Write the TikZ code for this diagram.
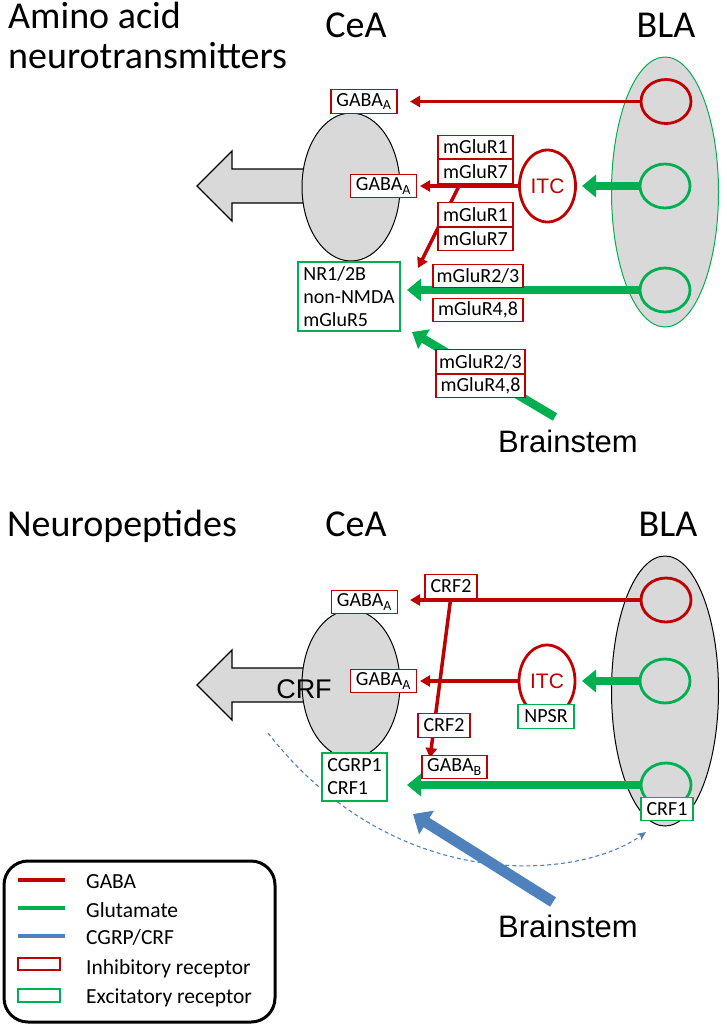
\documentclass[tikz,border=0pt]{standalone}
\usepackage{fontspec}
\setmainfont{Carlito}
\newfontfamily\arialf{Liberation Sans}
\usetikzlibrary{arrows.meta,shapes.geometric}
\definecolor{dred}{HTML}{C00000}
\definecolor{dgreen}{HTML}{00B050}
\definecolor{dblue}{HTML}{4F81BD}
\definecolor{lgray}{HTML}{D9D9D9}
\begin{document}
\begin{tikzpicture}[x=1pt,y=-1pt,
  inh/.style={draw=dred,line width=1.4pt,fill=white,inner sep=0pt,minimum height=23.5pt,font=\fontsize{20}{23}\selectfont},
  exc/.style={draw=dgreen,line width=1.4pt,fill=white,inner sep=0pt,minimum height=23.5pt,font=\fontsize{20}{23}\selectfont},
  redarr/.style={draw=dred,line width=3.5pt,-{Triangle[length=10pt,width=11pt]}},
  grnarr/.style={draw=dgreen,line width=8.5pt,-{Triangle[length=14pt,width=22pt]}},
  bluarr/.style={draw=dblue,line width=11pt,-{Triangle[length=16pt,width=27pt]}},
  dasharr/.style={draw=dblue,line width=1.1pt,dash pattern=on 4pt off 3pt,-{Stealth[length=9pt,width=8pt]}},
  cirR/.style={ellipse,draw=dred,line width=2.8pt,minimum width=50pt,minimum height=44pt,inner sep=0pt},
  cirG/.style={ellipse,draw=dgreen,line width=2.8pt,minimum width=50pt,minimum height=44pt,inner sep=0pt},
  itcS/.style={ellipse,draw=dred,line width=2.8pt,fill=white,minimum width=56pt,minimum height=72pt,inner sep=0pt,text=dred,font=\arialf\fontsize{21}{24}\selectfont},
  ceaS/.style={ellipse,draw=black,line width=1pt,fill=lgray,minimum width=98pt,minimum height=148pt,inner sep=0pt},
  blaS/.style={ellipse,line width=1pt,fill=lgray,minimum width=107pt,minimum height=270pt,inner sep=0pt},
  ttl/.style={inner sep=0pt,font=\fontsize{38}{41}\selectfont},
  bstem/.style={inner sep=0pt,font=\arialf\fontsize{31}{34}\selectfont},
  grayarr/.style={draw=black,line width=1.3pt,fill=lgray,line join=miter},
  leg/.style={inner sep=0pt,anchor=base west,font=\fontsize{21.5}{24}\selectfont}
]
\useasboundingbox (0,0) rectangle (726,1026);

% ---------------- titles ----------------
\node[ttl,anchor=base west] (t1a) at (8,28) {Amino acid};
\node[ttl,anchor=base west] (t1b) at (8,68) {neurotransmitters};
\node[ttl,anchor=base] (cea1t) at (356,37) {CeA};
\node[ttl,anchor=base] (bla1t) at (666,37) {BLA};
\node[ttl,anchor=base west] (t2) at (7,536) {Neuropeptides};
\node[ttl,anchor=base] (cea2t) at (356,536) {CeA};
\node[ttl,anchor=base] (bla2t) at (668,536) {BLA};

% ================= TOP PANEL =================
\draw[grayarr] (322,169) -- (232,169) -- (232,151) -- (197,186) -- (232,221) -- (232,203) -- (322,203) -- cycle;
\node[ceaS] (cea1) at (351,187) {};
\node[blaS,draw=dgreen] (blaA) at (665,192) {};
\node[cirR] (bla1) at (666,101.5) {};
\node[cirG] (bla2) at (665,186) {};
\node[cirG] (bla3) at (665,290) {};
\node[itcS] (itc1) at (547.5,186) {ITC};

\node[bstem,anchor=base] (bs1) at (568,452) {Brainstem};
\coordinate (bs1s) at (555,417);
\coordinate (bs1e) at (412,332);
\coordinate (b1s) at (459,186);
\coordinate (b1e) at (418,268);

\draw[redarr] (bla1.west) -- (410,101.5);
\draw[redarr] (itc1.west) -- (420,186);
\draw[grnarr] (bla2.west) -- (582,186);
\draw[redarr] (b1s) -- (b1e);
\draw[grnarr] (bla3.west) -- (407,290);
\draw[grnarr] (bs1s) -- (bs1e);

\node[inh,minimum width=66pt] (gA1) at (364,101.5) {GABA\textsubscript{A}};
\node[inh,minimum width=66pt] (gA2) at (383.5,186) {GABA\textsubscript{A}};
\node[exc,minimum width=102pt,minimum height=69pt,align=left] (nr) at (349,296.5) {NR1/2B\\non-NMDA\\mGluR5};
\node[inh,minimum width=75pt] (m1a) at (475.5,147) {mGluR1};
\node[inh,minimum width=75pt] (m7a) at (475.5,171.5) {mGluR7};
\node[inh,minimum width=75pt] (m1b) at (475.5,214.5) {mGluR1};
\node[inh,minimum width=75pt] (m7b) at (475.5,239) {mGluR7};
\node[inh,minimum width=90pt] (m23a) at (478,276) {mGluR2/3};
\node[inh,minimum width=90pt] (m48a) at (478,310) {mGluR4,8};
\node[inh,minimum width=89pt] (m23b) at (480.5,361.5) {mGluR2/3};
\node[inh,minimum width=89pt] (m48b) at (480.5,386) {mGluR4,8};

% ================= BOTTOM PANEL =================
\draw[grayarr] (322,668) -- (232,668) -- (232,650) -- (197,685) -- (232,720) -- (232,702) -- (322,702) -- cycle;
\node[ceaS] (cea2) at (351,684) {};
\node[inner sep=0pt,font=\arialf\fontsize{27}{30}\selectfont] (crf) at (304,689) {CRF};
\node[blaS,draw=black] (blaB) at (665,691) {};
\node[cirR] (bla4) at (666,600) {};
\node[cirG] (bla5) at (665,681) {};
\node[cirG] (bla6) at (666,785) {};
\node[itcS] (itc2) at (547,681) {ITC};

\node[bstem,anchor=base] (bs2) at (568,937) {Brainstem};
\coordinate (bs2s) at (553,902);
\coordinate (bs2e) at (413,814);
\coordinate (c2e) at (430,758);
\coordinate (dstart) at (268,733);
\coordinate (dend) at (646,832);

\draw[dasharr] (dstart) .. controls (396,897) and (580,880) .. (dend);
\draw[redarr] (bla4.west) -- (410,600);
\draw[redarr] (itc2.west) -- (420,681);
\draw[grnarr] (bla5.west) -- (582,681);
\draw[redarr] (451,596) -- (c2e);
\draw[grnarr] (bla6.west) -- (407,785);
\draw[bluarr] (bs2s) -- (bs2e);

\node[inh,minimum width=66pt] (gA3) at (364.5,602) {GABA\textsubscript{A}};
\node[inh,minimum width=66pt] (gA4) at (383.5,681) {GABA\textsubscript{A}};
\node[inh,minimum width=52pt] (crf2a) at (451,586.5) {CRF2};
\node[inh,minimum width=52pt] (crf2b) at (444,725.5) {CRF2};
\node[inh,minimum width=65pt] (gB) at (454.5,767) {GABA\textsubscript{B}};
\node[exc,minimum width=65pt,minimum height=48pt,align=left] (cgrp) at (354.5,777) {CGRP1\\CRF1};
\node[exc,minimum width=56pt] (npsr) at (546,716.5) {NPSR};
\node[exc,minimum width=52pt] (crf1) at (667,809) {CRF1};

% ================= LEGEND =================
\node[draw=black,line width=3pt,rounded corners=24pt,minimum width=271pt,minimum height=161pt,inner sep=0pt] (legend) at (139.5,941.5) {};
\draw[dred,line width=3.5pt] (18,880) -- (65,880);
\draw[dgreen,line width=3.5pt] (18,908) -- (65,908);
\draw[dblue,line width=3.5pt] (18,936) -- (65,936);
\draw[dred,line width=1.4pt] (18,958) rectangle (60,970);
\draw[dgreen,line width=1.4pt] (18,989) rectangle (60,1002);
\node[leg] (l1) at (86,888) {GABA};
\node[leg] (l2) at (86,917) {Glutamate};
\node[leg] (l3) at (86,944) {CGRP/CRF};
\node[leg] (l4) at (86,974) {Inhibitory receptor};
\node[leg] (l5) at (86,1003) {Excitatory receptor};
\end{tikzpicture}
\end{document}
